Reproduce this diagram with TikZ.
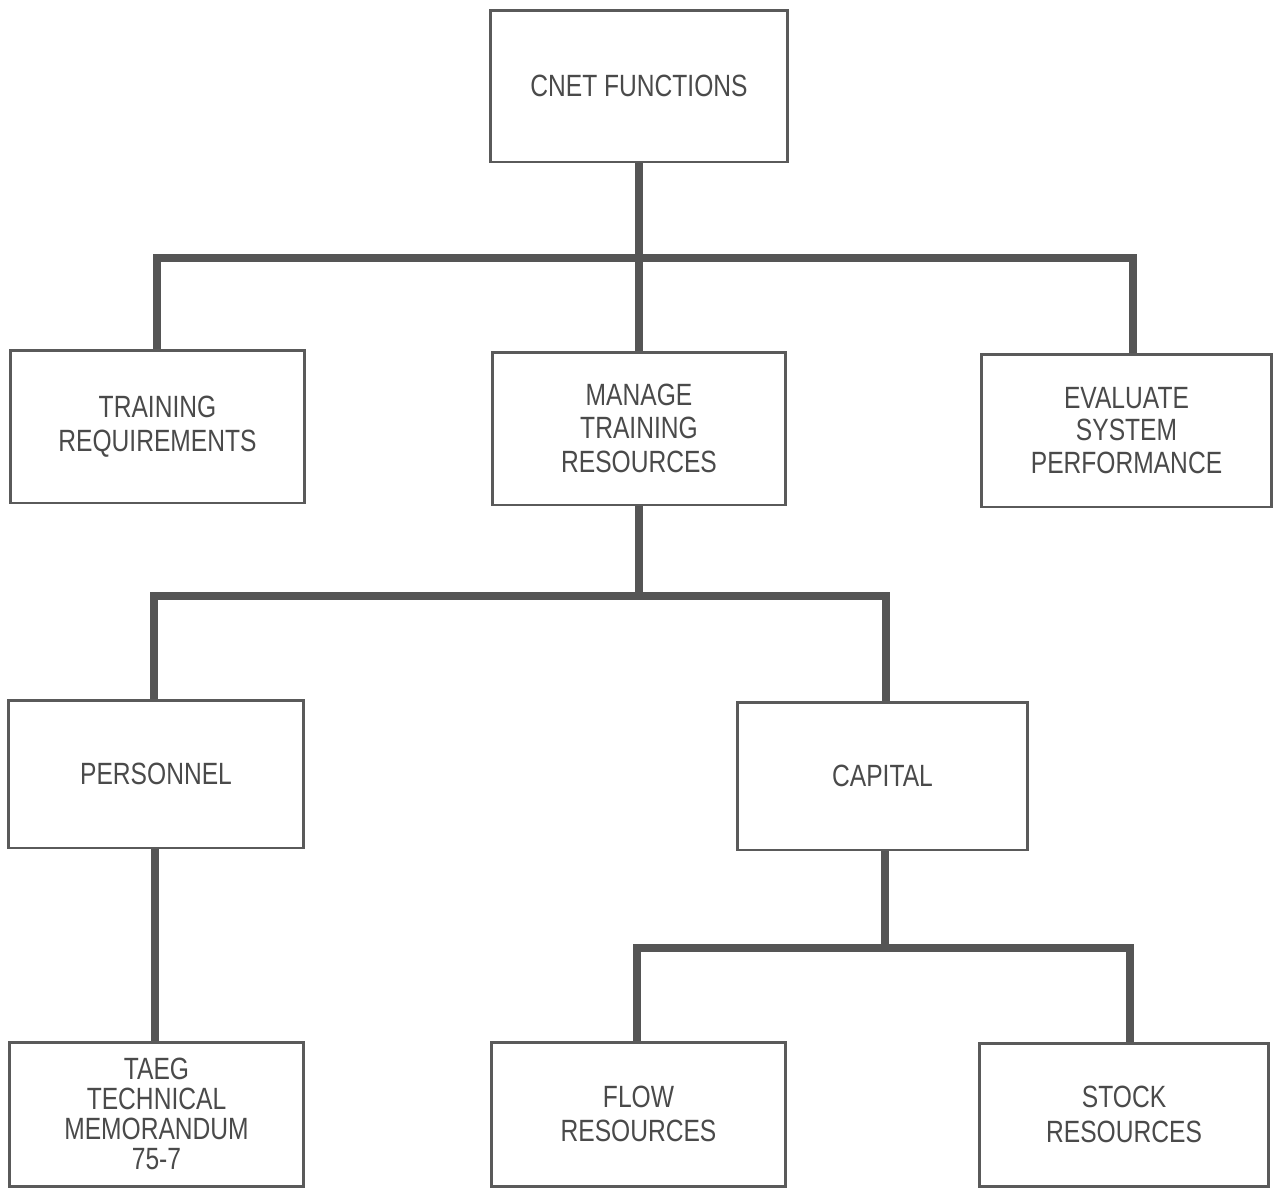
\documentclass[tikz,border=0pt]{standalone}
\usepackage{fontspec}
\setmainfont{Liberation Sans}[FakeStretch=0.8]
\begin{document}
\begin{tikzpicture}[x=0.02cm,y=-0.02cm,
  box/.style={draw=boxc,line width=1.7pt,fill=white,inner sep=0pt,align=center,
    font=\fontsize{17.5}{19.5}\selectfont,text=txtc},
  conn/.style={draw=linec,line width=4.3pt,line cap=butt,line join=miter}]
\definecolor{boxc}{HTML}{5A5A5A}
\definecolor{linec}{HTML}{555555}
\definecolor{txtc}{HTML}{4A4A4A}
\useasboundingbox[fill=white] (0,0) rectangle (1274,1188);
% boxes
\node[box,minimum width=5.96cm,minimum height=3.04cm] (cnet) at (639,86) {CNET FUNCTIONS};
\node[box,minimum width=5.9cm,minimum height=3.06cm] (treq) at (157.5,426.5) {TRAINING\\REQUIREMENTS};
\node[box,minimum width=5.88cm,minimum height=3.06cm] (mtr) at (639,428.5) {MANAGE\\[-1pt]TRAINING\\RESOURCES};
\node[box,minimum width=5.82cm,minimum height=3.06cm] (esp) at (1126.5,430.5) {EVALUATE\\[-1pt]SYSTEM\\[-1pt]PERFORMANCE};
\node[box,minimum width=5.92cm,minimum height=2.96cm] (pers) at (156,774) {PERSONNEL};
\node[box,minimum width=5.82cm,minimum height=2.96cm] (cap) at (882.5,776) {CAPITAL};
\node[box,minimum width=5.9cm,minimum height=2.88cm,font=\fontsize{17.5}{17}\selectfont] (taeg) at (156.5,1114) {TAEG\\TECHNICAL\\MEMORANDUM\\75-7};
\node[box,minimum width=5.9cm,minimum height=2.88cm] (flow) at (638.5,1114) {FLOW\\RESOURCES};
\node[box,minimum width=5.8cm,minimum height=2.86cm] (stock) at (1124,1114.5) {STOCK\\RESOURCES};
% bar coordinates
\coordinate (b1l) at (157,258);
\coordinate (b1r) at (1133,258);
\coordinate (b2l) at (154,596);
\coordinate (b2r) at (886,596);
\coordinate (b3l) at (637,948);
\coordinate (b3m) at (885,948);
\coordinate (b3r) at (1130,948);
\coordinate (pt) at (155,0);
% connectors
\draw[conn] (cnet.south) -- (mtr.north);
\draw[conn] (b1l |- treq.north) -- (b1l) -- (b1r) -- (b1r |- esp.north);
\draw[conn] (mtr.south) -- (mtr.south |- b2l);
\draw[conn] (b2l |- pers.north) -- (b2l) -- (b2r) -- (b2r |- cap.north);
\draw[conn] (pt |- pers.south) -- (pt |- taeg.north);
\draw[conn] (b3m |- cap.south) -- (b3m);
\draw[conn] (b3l |- flow.north) -- (b3l) -- (b3r) -- (b3r |- stock.north);
\end{tikzpicture}
\end{document}
